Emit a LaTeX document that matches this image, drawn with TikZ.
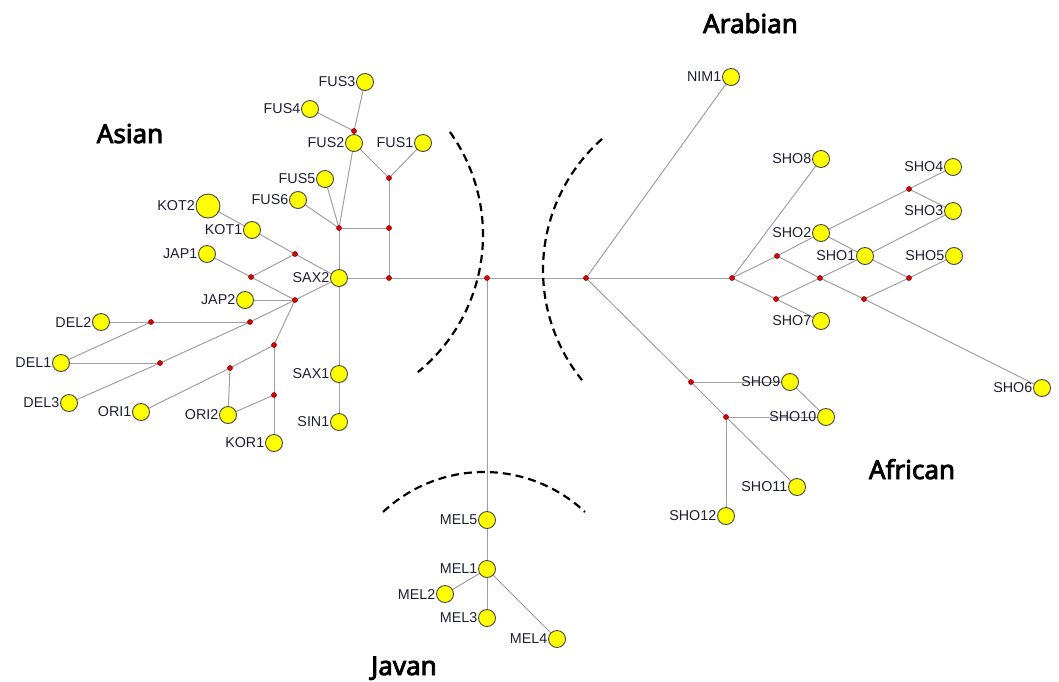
\documentclass[tikz,border=0pt]{standalone}
\usepackage{fontspec}
\newfontfamily\lblfont{Liberation Sans}
\newfontfamily\regionfont{Noto Sans}[AutoFakeBold=3.2]
\usetikzlibrary{backgrounds}
\definecolor{hapfill}{RGB}{255,255,0}
\definecolor{hapline}{RGB}{70,70,70}
\definecolor{medfill}{RGB}{225,0,0}
\definecolor{medline}{RGB}{110,0,0}
\definecolor{edgegray}{RGB}{160,160,160}
\definecolor{lbltext}{RGB}{30,30,50}
\tikzset{
  hap/.style={circle, draw=hapline, line width=0.9pt, fill=hapfill, minimum size=17pt, inner sep=0pt},
  bighap/.style={hap, minimum size=24pt},
  med/.style={circle, draw=medline, line width=0.5pt, fill=medfill, minimum size=5pt, inner sep=0pt},
  lbl/.style={font=\lblfont\fontsize{14.3}{16}\selectfont, text=lbltext, inner sep=0.6pt},
  link/.style={draw=edgegray, line width=1pt},
  region/.style={font=\regionfont\bfseries\fontsize{26}{30}\selectfont, anchor=base, inner sep=0pt},
  boundary/.style={line width=2.2pt, dash pattern=on 8pt off 5pt, black}
}
\begin{document}
\begin{tikzpicture}[x=1pt, y=-1pt]
\useasboundingbox (0,0) rectangle (1059,681);

% haplotypes (label to the left of each circle)
\foreach \n/\x/\y in {
  FUS3/365/82, FUS4/310/109, FUS2/354/143, FUS1/423/143, FUS5/325/179, FUS6/298/200,
  KOT1/252/230, JAP1/207/254, SAX2/339/278, JAP2/245/300, DEL2/101/322, DEL1/61/363,
  DEL3/69/403, ORI1/141/412, ORI2/228/415, KOR1/274/443, SAX1/339/374, SIN1/339/422,
  NIM1/731/77, SHO8/821/159, SHO4/953/167, SHO3/953/211, SHO2/821/233, SHO1/865/256,
  SHO5/954/256, SHO7/821/321, SHO6/1042/388, SHO9/790/382, SHO10/826/417,
  SHO11/797/487, SHO12/726/516, MEL5/487/520, MEL1/487/569, MEL2/445/594,
  MEL3/487/618, MEL4/557/639}
  \node[hap, label={[lbl]left:\n}] (\n) at (\x,\y) {};
\node[bighap, label={[lbl]left:KOT2}] (KOT2) at (208,206) {};

% median vectors
\foreach \n/\x/\y in {
  m1/354/131, m2/389/178, m3/339/228, m4/389/228, m5/295/254, m6/251/277,
  m7/295/300, m8/151/322, m9/250/322, m10/274/345, m11/160/363, m12/230/368,
  m13/274/395, m14/389/278, c1/487/278, c2/586/278,
  r1/732/278, r2/777/256, r3/776/299, r4/820/278, r5/864/299, r6/909/189,
  r7/909/278, r8/691/382, r9/726/417}
  \node[med] (\n) at (\x,\y) {};

% connections
\begin{pgfonlayer}{background}
\foreach \a/\b in {
  FUS3/m1, FUS4/m1, m1/FUS2, FUS2/m3, FUS2/m2, FUS1/m2, m2/m4, FUS5/m3, FUS6/m3,
  m3/m4, m3/SAX2, m4/m14, KOT2/KOT1, KOT1/m5, m5/SAX2, m5/m6, JAP1/m6, m6/m7,
  JAP2/m7, m7/SAX2, m7/m9, m9/m11, m11/DEL3, DEL2/m8, m8/m9, m8/DEL1, DEL1/m11,
  m7/m10, m10/m12, m12/ORI1, m12/ORI2, m10/m13, m13/ORI2, m13/KOR1,
  SAX2/SAX1, SAX1/SIN1, SAX2/m14, m14/c1, c1/c2, c1/MEL5, MEL5/MEL1,
  MEL1/MEL2, MEL1/MEL3, MEL1/MEL4,
  c2/NIM1, c2/r1, c2/r8, r8/r9, r9/SHO11, r8/SHO9, SHO9/SHO10, r9/SHO10, r9/SHO12,
  r1/SHO8, r1/r2, r1/r3, r2/SHO2, r2/r4, r3/r4, r3/SHO7, r4/SHO1, r4/r5, r5/SHO6,
  r5/r7, SHO1/r7, r7/SHO5, SHO1/SHO3, SHO2/SHO1, SHO2/r6, r6/SHO4, r6/SHO3}
  \draw[link] (\a.center) -- (\b.center);
\end{pgfonlayer}

% group boundaries
\draw[boundary] plot[domain=35.6:-50.8, samples=80] ({306+177*cos(\x)}, {235-177*sin(\x)});
\draw[boundary] plot[domain=131.5:219, samples=80] ({718+175*cos(\x)}, {270-175*sin(\x)});
\draw[boundary] plot[domain=133.2:46.8, samples=80] ({484+147.5*cos(\x)}, {619.5-147.5*sin(\x)});

% group names
\node[region] (asian) at (130,143) {Asian};
\node[region] (arabian) at (750.5,33) {Arabian};
\node[region] (african) at (912,479) {African};
\node[region] (javan) at (404,675) {Javan};
\end{tikzpicture}
\end{document}
